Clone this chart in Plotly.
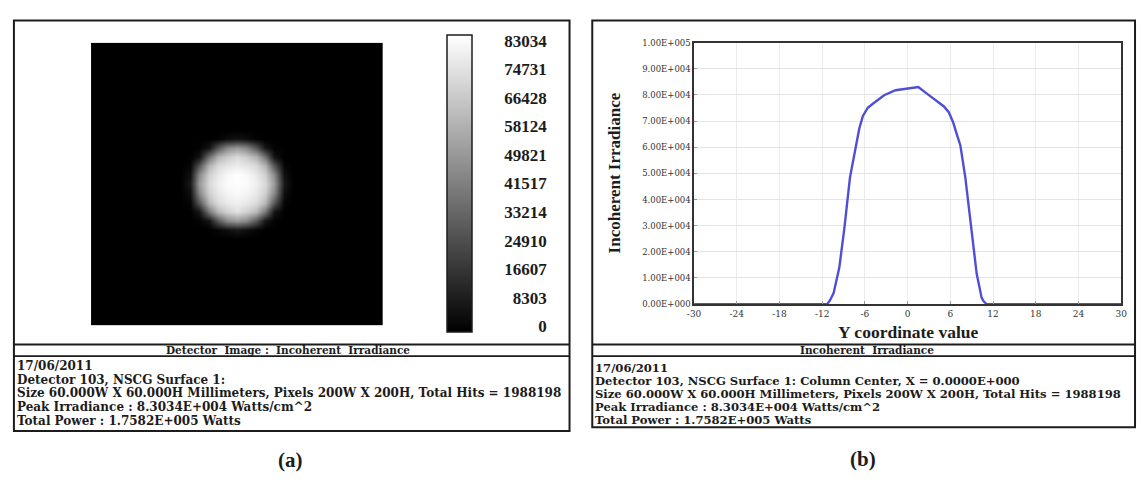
import numpy as np
import plotly.graph_objects as go

W, H = 1143, 492

# ---------------- data ----------------
# Detector sampling (mm) used for the irradiance map, 60 mm x 60 mm detector
grid_mm = list(range(-30, 31, 2))
# Irradiance of the central window (x and y from -10 to +10 mm, step 2), in units of 1000 W/cm^2
spot_mm = list(range(-10, 11, 2))
spot_k = [  # rows: y = -10 ... +10, columns: x = -10 ... +10
    [0, 0, 0, 2, 5, 8, 5, 2, 0, 0, 0],
    [0, 1, 7, 29, 45, 50, 45, 29, 7, 1, 0],
    [0, 7, 39, 60, 68, 73, 68, 60, 39, 7, 0],
    [2, 29, 60, 72, 76, 78.5, 76, 72, 60, 29, 2],
    [5, 45, 68, 76, 80, 81.5, 80, 76, 68, 45, 5],
    [8, 50, 71, 78, 82, 82.6, 82, 78, 71, 50, 8],
    [5, 45, 68, 76, 81, 83.034, 81, 76, 68, 45, 5],
    [2, 28, 59, 71, 75, 77.5, 75, 71, 59, 28, 2],
    [0, 6, 37, 58, 66, 71, 66, 58, 37, 6, 0],
    [0, 1, 7, 28, 44, 50, 44, 28, 7, 1, 0],
    [0, 0, 0, 1, 4, 6, 4, 1, 0, 0, 0],
]
cbar_ticks = [0, 8303, 16607, 24910, 33214, 41517, 49821, 58124, 66428, 74731, 83034]

# Column-centre profile (X = 0) along Y
profile_y = [-30, -11.3, -10.9, -10.4, -9.6, -8.9, -8.1, -7.3, -6.8, -6.3, -5.6, -4.8, -3.3,
             -1.7, 0, 1.5, 2.8, 4.1, 5.1, 5.8, 6.4, 6.8, 7.4, 8.1, 8.9, 9.7, 10.4, 10.7,
             11.1, 30]
profile_irr = [0, 0, 1500, 4200, 14000, 28800, 48500, 60800, 67100, 71900, 75100, 76800,
               79900, 81800, 82600, 83034, 80300, 77500, 75600, 73300, 69500, 65900, 60800,
               48500, 28800, 11600, 2400, 1000, 0, 0]
x_ticks = [-30, -24, -18, -12, -6, 0, 6, 12, 18, 24, 30]
y_ticks = [0, 10000, 20000, 30000, 40000, 50000, 60000, 70000, 80000, 90000, 100000]
y_tick_text = ["0.00E+000", "1.00E+004", "2.00E+004", "3.00E+004", "4.00E+004", "5.00E+004",
               "6.00E+004", "7.00E+004", "8.00E+004", "9.00E+004", "1.00E+005"]

info_a = ["17/06/2011",
          "Detector 103, NSCG Surface 1:",
          "Size 60.000W X 60.000H Millimeters, Pixels 200W X 200H, Total Hits = 1988198",
          "Peak Irradiance : 8.3034E+004 Watts/cm^2",
          "Total Power : 1.7582E+005 Watts"]
info_b = ["17/06/2011",
          "Detector 103, NSCG Surface 1: Column Center, X = 0.0000E+000",
          "Size 60.000W X 60.000H Millimeters, Pixels 200W X 200H, Total Hits = 1988198",
          "Peak Irradiance : 8.3034E+004 Watts/cm^2",
          "Total Power : 1.7582E+005 Watts"]

# ---------------- helpers ----------------
def px(x):
    return x / W

def py(y):
    return 1 - y / H

SERIF = "Liberation Serif, Times New Roman, serif"
WIDE = "DejaVu Serif, serif"
INK = "#1c1c1c"

# full detector map: zero background with the spot window placed in the middle
z = np.zeros((len(grid_mm), len(grid_mm)))
i0 = grid_mm.index(spot_mm[0])
z[i0:i0 + len(spot_mm), i0:i0 + len(spot_mm)] = np.array(spot_k) * 1000.0

fig = go.Figure()

fig.add_trace(go.Heatmap(
    x=grid_mm, y=grid_mm, z=z, zmin=0, zmax=cbar_ticks[-1], zsmooth="best",
    colorscale=[[0, "#000000"], [1, "#ffffff"]],
    xaxis="x", yaxis="y", hoverinfo="skip",
    colorbar=dict(x=px(445), xanchor="left", y=py(181.5), yanchor="middle",
                  len=297, lenmode="pixels", thickness=25, thicknessmode="pixels",
                  xpad=0, ypad=0, outlinewidth=1.5, outlinecolor=INK,
                  showticklabels=False, ticks=""),
))
# carrier trace for the colour-bar label axis
fig.add_trace(go.Scatter(x=[None], y=[None], xaxis="x3", yaxis="y3",
                         showlegend=False, hoverinfo="skip"))

fig.add_trace(go.Scatter(
    x=profile_y, y=profile_irr, mode="lines", xaxis="x2", yaxis="y2",
    line=dict(color="#4f4fd6", width=2.4), showlegend=False, hoverinfo="skip",
))

fig.update_layout(
    width=W, height=H, margin=dict(l=0, r=0, t=0, b=0),
    paper_bgcolor="white", plot_bgcolor="white", showlegend=False,
    font=dict(family=SERIF, color=INK),
    xaxis=dict(domain=[px(85), px(380)], range=[-31, 31], visible=False),
    yaxis=dict(domain=[py(329), py(35)], range=[-31, 31], visible=False),
    xaxis3=dict(domain=[px(440), px(475)], range=[0, 1], visible=False),
    yaxis3=dict(domain=[py(330), py(33)], range=[0, cbar_ticks[-1]], anchor="free",
                position=px(546), side="left", tickvals=cbar_ticks,
                ticktext=[str(v) for v in cbar_ticks], showgrid=False, zeroline=False,
                showline=False, ticks="", ticklabelstandoff=0,
                tickfont=dict(family=SERIF, size=17, weight="bold", color=INK)),
    xaxis2=dict(domain=[px(695), px(1127)], range=[-30, 30], anchor="y2",
                tickvals=x_ticks, ticktext=[str(v) for v in x_ticks],
                showgrid=True, gridcolor="#ececec", zeroline=False,
                showline=True, mirror=True, linecolor="#333", linewidth=1.5,
                ticks="inside", ticklen=3, tickcolor="#999",
                tickfont=dict(family=WIDE, size=9, color="#333")),
    yaxis2=dict(domain=[py(307), py(35)], range=[0, 100000], anchor="x2",
                tickvals=y_ticks, ticktext=y_tick_text,
                showgrid=True, gridcolor="#e4e4e4", zeroline=False,
                showline=True, mirror=True, linecolor="#333", linewidth=1.5,
                ticks="inside", ticklen=3, tickcolor="#999",
                tickfont=dict(family=WIDE, size=8.5, color="#333")),
)

shapes = []
line_k = dict(color=INK, width=2)
# panel frames
shapes.append(dict(type="rect", xref="paper", yref="paper", x0=px(7), x1=px(569),
                   y0=py(439), y1=py(12), line=line_k))
shapes.append(dict(type="rect", xref="paper", yref="paper", x0=px(592), x1=px(1141),
                   y0=py(435), y1=py(12), line=line_k))
# header bands above the info text
for x0, x1 in [(7, 569), (592, 1141)]:
    for yy in (349, 361):
        shapes.append(dict(type="line", xref="paper", yref="paper", x0=px(x0), x1=px(x1),
                           y0=py(yy), y1=py(yy), line=dict(color=INK, width=1.8)))
fig.update_layout(shapes=shapes)

ann = []
# band titles
ann.append(dict(text="Detector  Image :  Incoherent  Irradiance", x=px(284), y=py(355),
                xref="paper", yref="paper", showarrow=False, xanchor="center", yanchor="middle",
                font=dict(family=WIDE, size=10.5, weight="bold", color=INK)))
ann.append(dict(text="Incoherent  Irradiance", x=px(870), y=py(355),
                xref="paper", yref="paper", showarrow=False, xanchor="center", yanchor="middle",
                font=dict(family=WIDE, size=10.5, weight="bold", color=INK)))
# info blocks
body_a = dict(family=WIDE, size=12, weight="bold", color=INK)
body_b = dict(family=WIDE, size=11.6, weight="bold", color=INK)
for s, yy in zip(info_a, [371.5, 385.7, 399.9, 414.1, 428.3]):
    ann.append(dict(text=s, x=px(9), y=py(yy), xref="paper", yref="paper", showarrow=False,
                    xanchor="left", yanchor="middle", borderpad=0, font=body_a))
for s, yy in zip(info_b, [373.2, 386.8, 400.4, 414.0, 427.6]):
    ann.append(dict(text=s, x=px(594), y=py(yy), xref="paper", yref="paper", showarrow=False,
                    xanchor="left", yanchor="middle", borderpad=0, font=body_b))
# axis titles of the profile plot
ann.append(dict(text="Y coordinate value", x=px(912), y=py(336), xref="paper", yref="paper",
                showarrow=False, xanchor="center", yanchor="middle",
                font=dict(family=SERIF, size=17.5, weight="bold", color=INK)))
ann.append(dict(text="Incoherent Irradiance", x=px(614), y=py(171), xref="paper", yref="paper",
                showarrow=False, xanchor="center", yanchor="middle", textangle=-90,
                font=dict(family=SERIF, size=17, weight="bold", color=INK)))
# sub-figure letters
ann.append(dict(text="(a)", x=px(287), y=py(469), xref="paper", yref="paper", showarrow=False,
                xanchor="center", yanchor="middle",
                font=dict(family=SERIF, size=21, weight="bold", color=INK)))
ann.append(dict(text="(b)", x=px(866), y=py(468), xref="paper", yref="paper", showarrow=False,
                xanchor="center", yanchor="middle",
                font=dict(family=SERIF, size=21, weight="bold", color=INK)))
fig.update_layout(annotations=ann)

fig.write_html("out.html")
